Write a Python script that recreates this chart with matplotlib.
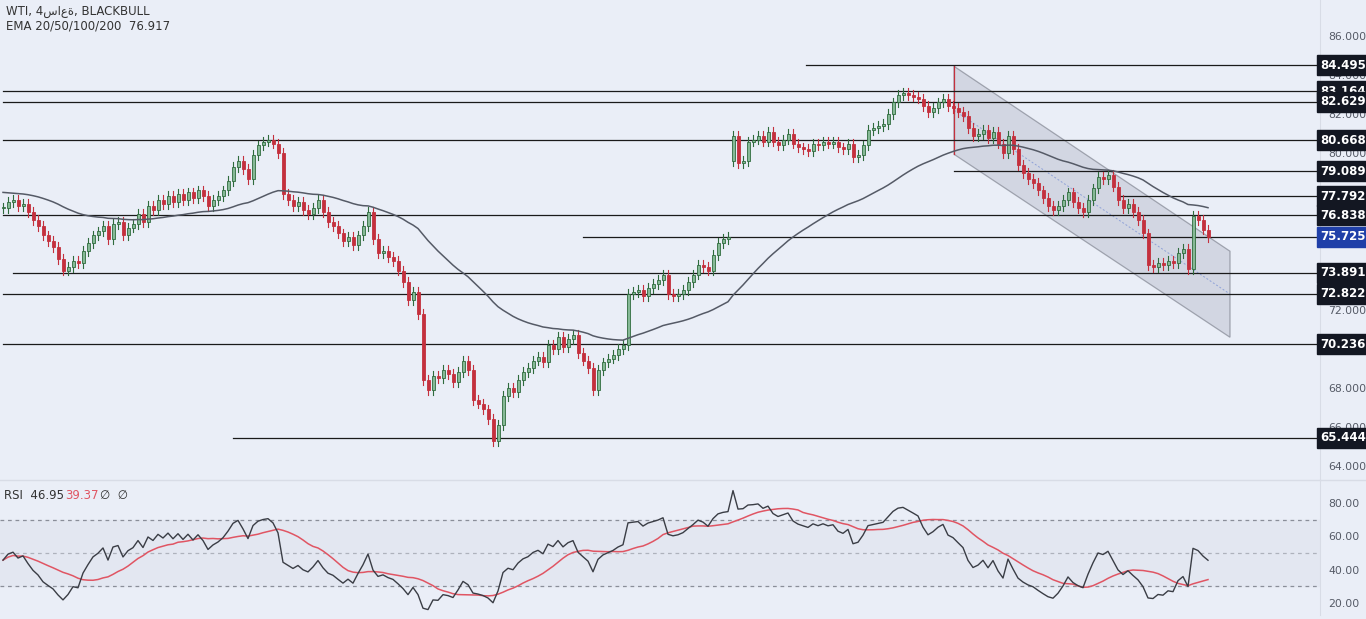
import matplotlib
matplotlib.use("Agg")
import matplotlib.pyplot as plt
from matplotlib.patches import Polygon, Rectangle
import numpy as np
import pandas as pd

# ---- data (4h WTI closes) ----
closes = [
    77.2, 77.5, 77.6, 77.3, 77.4, 77.0, 76.6, 76.3, 75.8, 75.5, 75.2, 74.6, 74.0,
    74.2, 74.5, 74.4, 75.0, 75.4, 75.8, 76.0, 76.3, 75.6, 76.4, 76.5, 75.8, 76.2, 76.4,
    76.9, 76.5, 77.3, 77.1, 77.6, 77.4, 77.8, 77.5, 77.9, 77.6, 78.0, 77.7, 78.1,
    77.8, 77.3, 77.6, 77.8, 78.1, 78.6, 79.3, 79.6, 79.2, 78.7, 79.9, 80.4,
    80.6, 80.7, 80.5, 80.0, 77.9, 77.6, 77.3, 77.5, 77.1, 76.9, 77.2, 77.6, 77.0,
    76.5, 76.3, 75.9, 75.5, 75.7, 75.3, 75.8, 76.3, 77.0, 75.6, 74.9, 75.0,
    74.7, 74.5, 74.0, 73.4, 72.5, 72.9, 71.8, 68.4, 67.9, 68.6, 68.5, 68.9, 68.7,
    68.3, 68.8, 69.4, 68.9, 67.4, 67.2, 66.9, 66.4, 65.3, 66.1, 67.6, 68.0,
    67.8, 68.4, 68.8, 69.0, 69.4, 69.6, 69.3, 70.2, 70.0, 70.6, 70.1, 70.5,
    70.7, 69.8, 69.4, 69.0, 67.9, 68.9, 69.3, 69.5, 69.7, 70.0, 70.2,
    72.8, 72.9, 73.0, 72.7, 73.1, 73.3, 73.5, 73.8, 72.8, 72.7, 72.8, 73.0, 73.4,
    73.8, 74.3, 74.2, 74.0, 74.8, 75.4, 75.6, 75.7,
    80.9, 79.5, 79.6, 80.6, 80.7, 80.9, 80.6, 81.1, 80.6, 80.4, 80.7,
    81.0, 80.5, 80.3, 80.2, 80.1, 80.5, 80.4, 80.6, 80.5, 80.6, 80.3, 80.2,
    80.5, 79.8, 79.9, 80.4, 81.2, 81.3, 81.4, 81.5, 82.0, 82.6, 83.0, 83.1,
    83.0, 82.9, 82.8, 82.4, 82.1, 82.3, 82.6, 82.8, 82.4, 82.3,
    82.1, 81.9, 81.3, 80.9, 81.0, 81.2, 80.8, 81.1, 80.5, 80.0, 80.9, 80.2, 79.4,
    79.0, 78.7, 78.5, 78.1, 77.7, 77.3, 77.1, 77.3, 77.6, 78.0, 77.5, 77.2,
    77.0, 77.6, 78.2, 78.8, 78.7, 78.9, 78.3, 77.6, 77.2, 77.4, 77.0,
    76.6, 75.9, 74.3, 74.2, 74.4, 74.3, 74.5, 74.4, 74.9, 75.1, 74.1,
    76.8, 76.6, 76.1, 75.7,
]
GAP_BAR = 146          # weekend gap bar and its open
GAP_OPEN = 79.6
EMA_SEED = 78.0
EMA_SPAN = 50
RSI_SEED_GAIN = 0.16   # seed averages so RSI starts near 45
RSI_SEED_LOSS = 0.19

levels     = [84.495, 83.164, 82.629, 80.668, 79.089, 77.792, 76.838, 75.725, 73.891, 72.822, 70.236, 65.444]
level_from = [160.6, 0, 0, 0, 190.2, 223, 0, 116, 2, 0, 0, 46]
last_price = 75.725

channel_x   = [190.2, 245.4]
channel_top = [84.45, 74.99]
channel_bot = [79.95, 70.59]
channel_mid = [82.2, 72.8]

price_ticks = [64, 66, 68, 70, 72, 74, 76, 78, 80, 82, 84, 86]
rsi_ticks   = [20, 40, 60, 80]

BG = "#eaeef7"
UP_FACE, UP_EDGE, DN = "#86b996", "#2f6b3d", "#c4303d"

c = np.array(closes)
n = len(c)
x = np.arange(n)
o = np.r_[c[0], c[:-1]]
o[GAP_BAR] = GAP_OPEN
hi = np.maximum(o, c) + 0.25
lo = np.minimum(o, c) - 0.25

ema = [EMA_SEED]
k = 2 / (EMA_SPAN + 1)
for v in c[1:]:
    ema.append(ema[-1] + k * (v - ema[-1]))

# Wilder RSI 14 with seeded averages
g, l = RSI_SEED_GAIN, RSI_SEED_LOSS
rsi = []
for dv in np.r_[0, np.diff(c)]:
    g = g + (max(dv, 0) - g) / 14
    l = l + (max(-dv, 0) - l) / 14
    rsi.append(100 - 100 / (1 + g / max(l, 1e-9)))
rsi = pd.Series(rsi)
rsi_ma = rsi.rolling(14, min_periods=1).mean()

W, H = 1366, 619
fig = plt.figure(figsize=(W / 100, H / 100), dpi=100, facecolor=BG)
ax = fig.add_axes([0, 1 - 480 / H, 1320 / W, 480 / H], facecolor=BG)
ax2 = fig.add_axes([0, 4 / H, 1320 / W, 135 / H], facecolor=BG)
for a in (ax, ax2):
    for s in a.spines.values():
        s.set_visible(False)
    a.spines["right"].set_visible(True)
    a.spines["right"].set_color("#d8dce6")
    a.set_xlim(-0.6, 263.4)
    a.set_xticks([])
    a.yaxis.tick_right()
    a.tick_params(axis="y", length=0, labelsize=7.8, labelcolor="#555a66", pad=6)

ax.set_ylim(63.29, 87.84)
ax.set_yticks(price_ticks)
ax.set_yticklabels([f"{t:.3f}" for t in price_ticks])

# channel
poly = Polygon([[channel_x[0], channel_top[0]], [channel_x[1], channel_top[1]],
                [channel_x[1], channel_bot[1]], [channel_x[0], channel_bot[0]]],
               closed=True, facecolor="#bfc3d2", alpha=0.55, edgecolor="#6a6e7a", lw=0.9, zorder=1)
ax.add_patch(poly)
ax.plot(channel_x, channel_mid, ls=(0, (2, 2)), color="#8fa2d8", lw=0.7, zorder=1)
ax.plot([channel_x[0]] * 2, [channel_bot[0], channel_top[0]], color="#c4303d", lw=0.9, zorder=2)

# levels
for lv, x0 in zip(levels, level_from):
    ax.plot([x0, 263.4], [lv, lv], color="#1a1a1a", lw=0.9, zorder=2)

# candles
for i in range(n):
    up = c[i] >= o[i]
    ax.plot([x[i], x[i]], [lo[i], hi[i]], color=UP_EDGE if up else DN, lw=0.8, zorder=3)
    b0, bh = min(o[i], c[i]), max(abs(c[i] - o[i]), 0.06)
    ax.add_patch(Rectangle((x[i] - 0.3, b0), 0.6, bh,
                           facecolor=UP_FACE if up else DN, edgecolor=UP_EDGE if up else DN,
                           lw=0.6, zorder=4))

ax.plot(x, ema, color="#555a66", lw=1.1, zorder=5)

# right-side boxed labels
for lv in levels:
    col = "#1f3fa8" if lv == last_price else "#131722"
    ax.annotate(f"{lv:.3f}", xy=(1.0, lv), xycoords=("axes fraction", "data"),
                xytext=(16.8, 0), textcoords="offset points", ha="center", va="center",
                fontsize=8.5, fontweight="bold", color="white", zorder=10, annotation_clip=False,
                bbox=dict(boxstyle="square,pad=0.3", fc=col, ec=col))

fig.text(6 / W, 1 - 11 / H, "WTI, 4ساعة, BLACKBULL", fontsize=8.5, color="#333", va="center")
fig.text(6 / W, 1 - 26 / H, "EMA 20/50/100/200  76.917", fontsize=8.5, color="#333", va="center")

# RSI
ax2.set_ylim(12.8, 93.8)
ax2.set_yticks(rsi_ticks)
ax2.set_yticklabels([f"{t:.2f}" for t in rsi_ticks])
ax2.axhspan(30, 70, color="#e3e7f1", zorder=0)
for lvl in (70, 50, 30):
    ax2.axhline(lvl, color="#8a8e99" if lvl != 50 else "#aeb2bc", ls=(0, (3, 3)), lw=0.9, zorder=1)
ax2.plot(x, rsi, color="#3a3d45", lw=1.0, zorder=3)
ax2.plot(x, rsi_ma, color="#e05563", lw=1.1, zorder=2)
ax2.text(0.003, 0.86, "RSI  46.95", transform=ax2.transAxes, fontsize=8.5, color="#333")
ax2.text(0.049, 0.86, "39.37", transform=ax2.transAxes, fontsize=8.5, color="#e05563")
ax2.text(0.076, 0.86, "∅  ∅", transform=ax2.transAxes, fontsize=8.5, color="#333")
fig.add_artist(plt.Line2D([0, 1], [1 - 480 / H] * 2, color="#d8dce6", lw=1))

fig.savefig("out.png", dpi=100, facecolor=BG)
